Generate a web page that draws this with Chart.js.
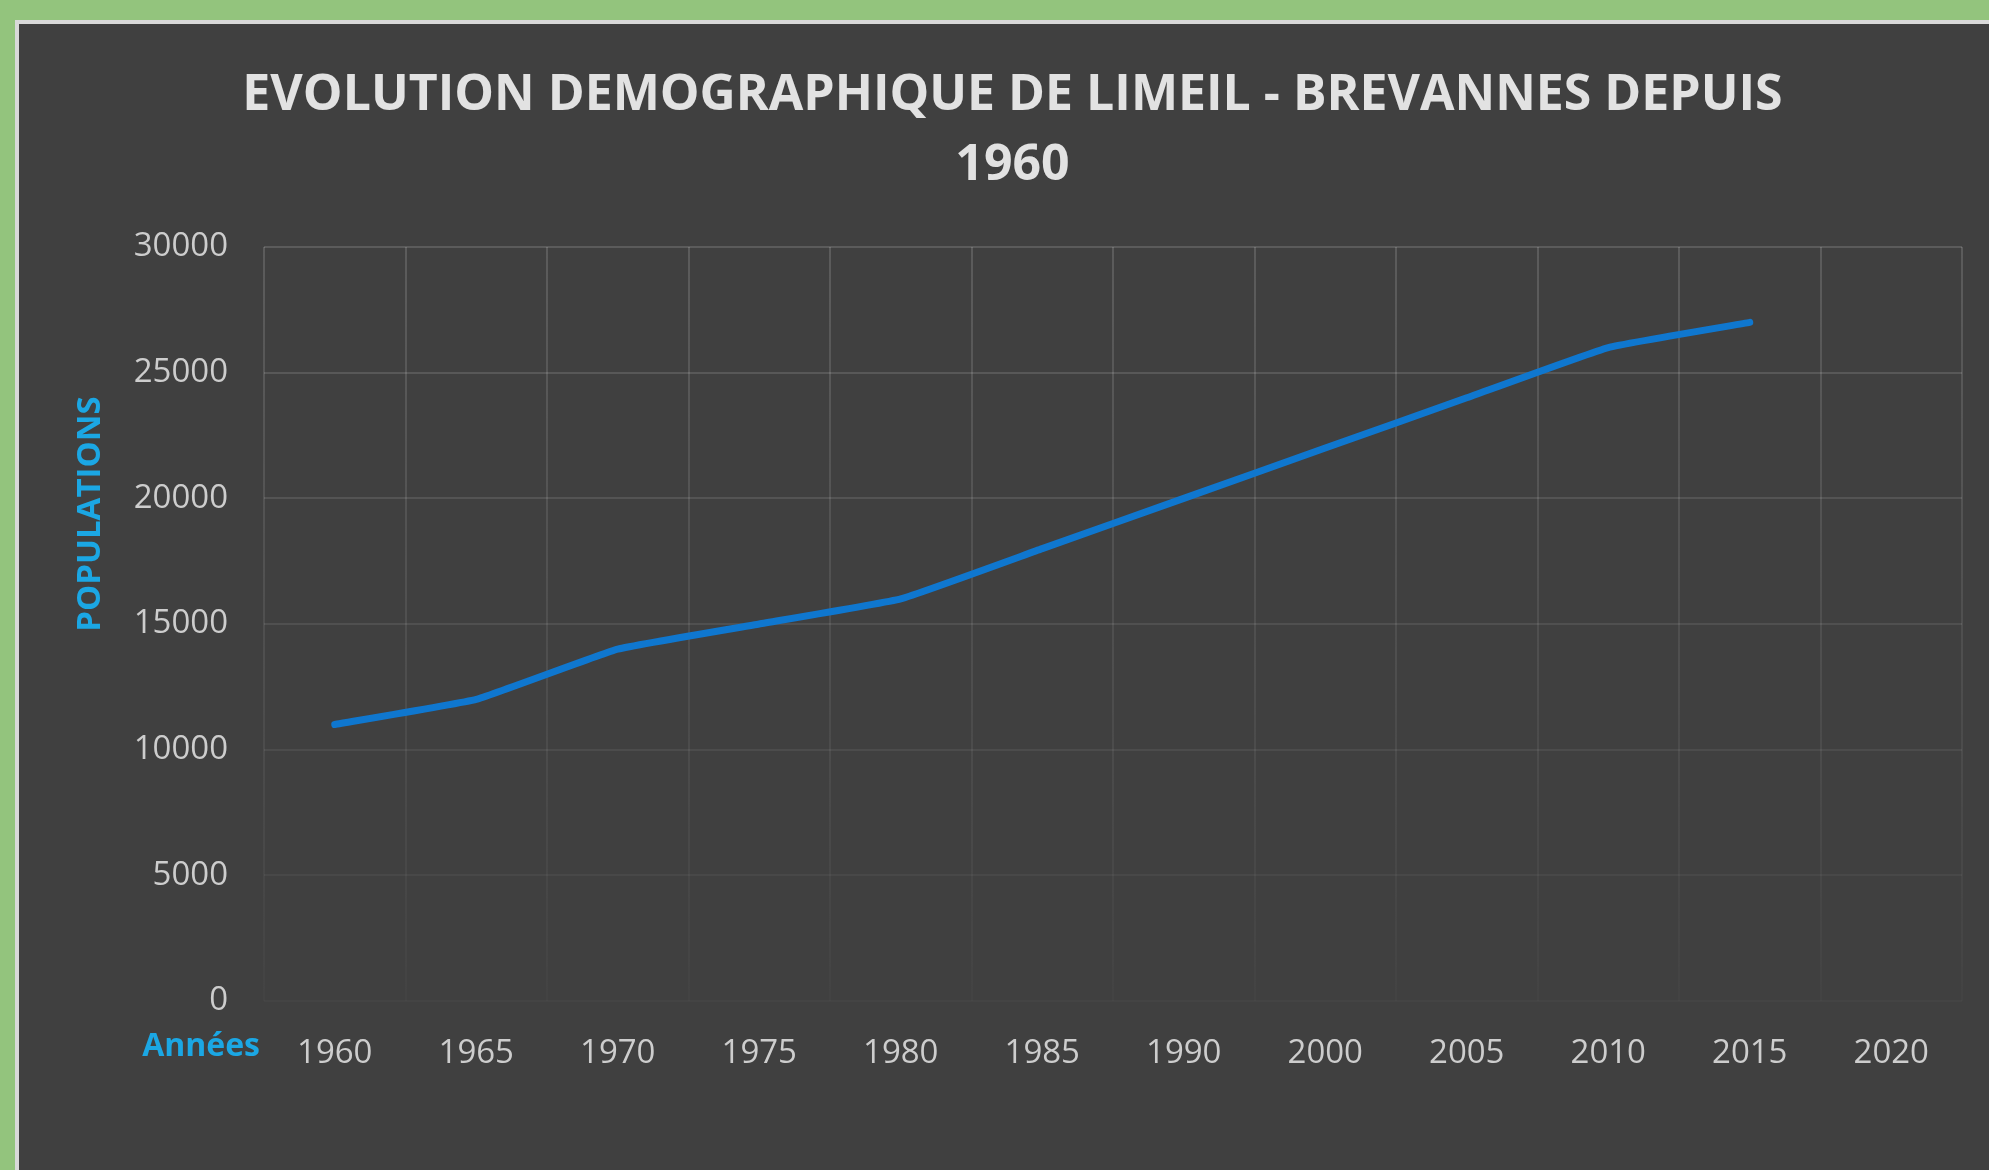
<!DOCTYPE html>
<html>
<head>
<meta charset="utf-8">
<script src="https://cdn.jsdelivr.net/npm/chart.js@4.4.1/dist/chart.umd.min.js"></script>
<style>
  html, body { margin: 0; padding: 0; background: #93c47d; overflow: hidden; }
  #panel {
    position: absolute; left: 15px; top: 20px;
    width: 1970px; height: 1146px;
    border-top: 4px solid #d9d9d9; border-left: 4px solid #d9d9d9;
    background: #404040;
  }
  #wrap { position: relative; width: 1970px; height: 1146px; }
</style>
</head>
<body>
<div id="panel"><div id="wrap"><canvas id="chart"></canvas></div></div>
<script>
// ---- data ----
const YEARS = ['1960', '1965', '1970', '1975', '1980', '1985', '1990', '2000', '2005', '2010', '2015', '2020'];
const POPULATION = [11000, 12000, 14000, 15000, 16000, 18000, 20000, 22000, 24000, 26000, 27000, null];
const Y_TICKS = [0, 5000, 10000, 15000, 20000, 25000, 30000];

const TITLE_LINES = ['EVOLUTION DEMOGRAPHIQUE DE LIMEIL - BREVANNES DEPUIS', '1960'];
const Y_TITLE = 'POPULATIONS';
const X_TITLE = 'Années';

const TICK_FONT = { family: 'Open Sans', size: 33 };
const AXIS_BLUE = '#1ba7e4';

// grid lines fade out toward the bottom of the plot
function yGridColor(ctx) {
  const v = ctx.tick ? ctx.tick.value : 0;
  const a = 0.025 + 0.12 * (v / 30000);
  return `rgba(255,255,255,${a.toFixed(3)})`;
}

function xGridColor(ctx) {
  const area = ctx.chart.chartArea;
  if (!area) return 'rgba(255,255,255,0.1)';
  const g = ctx.chart.ctx.createLinearGradient(0, area.top, 0, area.bottom);
  g.addColorStop(0, 'rgba(255,255,255,0.15)');
  g.addColorStop(1, 'rgba(255,255,255,0.02)');
  return g;
}

// axis titles sit in unusual spots, so draw them by hand
const axisTitles = {
  id: 'axisTitles',
  afterDraw(chart) {
    const c = chart.ctx;
    c.save();
    c.fillStyle = AXIS_BLUE;
    c.font = 'bold 33px "Open Sans"';
    c.textBaseline = 'middle';
    // y title, rotated
    c.save();
    c.translate(72, 490);
    c.rotate(-Math.PI / 2);
    c.textAlign = 'center';
    c.fillText(Y_TITLE, 0, 0);
    c.restore();
    // x title, left of the year labels
    c.font = 'bold 32px "Open Sans"';
    c.textAlign = 'right';
    c.fillText(X_TITLE, chart.chartArea.left - 4, chart.chartArea.bottom + 46);
    c.restore();
  }
};

new Chart(document.getElementById('chart'), {
  type: 'line',
  data: {
    labels: YEARS,
    datasets: [{
      data: POPULATION,
      borderColor: '#0f77cf',
      borderWidth: 7,
      borderCapStyle: 'round',
      borderJoinStyle: 'round',
      pointRadius: 0,
      tension: 0.1,
      fill: false,
    }]
  },
  options: {
    responsive: true,
    maintainAspectRatio: false,
    animation: false,
    layout: { padding: { left: 44, right: 27, top: 0, bottom: 0 } },
    plugins: {
      legend: { display: false },
      tooltip: { enabled: false },
      title: {
        display: true,
        text: TITLE_LINES,
        color: '#e2e2e2',
        font: { family: 'Open Sans', size: 50, weight: 'bold', lineHeight: 1.4 },
        padding: { top: 37, bottom: 46 },
      }
    },
    scales: {
      x: {
        offset: true,
        grid: { offset: true, color: xGridColor, lineWidth: 2, drawTicks: false },
        border: { display: false },
        ticks: { color: '#cdcdcd', font: TICK_FONT, padding: 33, maxRotation: 0, autoSkip: false },
        afterFit(scale) { scale.height = 169; },
      },
      y: {
        min: 0,
        max: 30000,
        afterBuildTicks(scale) { scale.ticks = Y_TICKS.map(v => ({ value: v })); },
        grid: { color: yGridColor, lineWidth: 2, drawTicks: false },
        border: { display: false },
        ticks: { color: '#cdcdcd', font: TICK_FONT, padding: 36, callback: v => String(v) },
        afterFit(scale) { scale.width = 201; },
      }
    }
  },
  plugins: [axisTitles]
});
</script>
</body>
</html>
